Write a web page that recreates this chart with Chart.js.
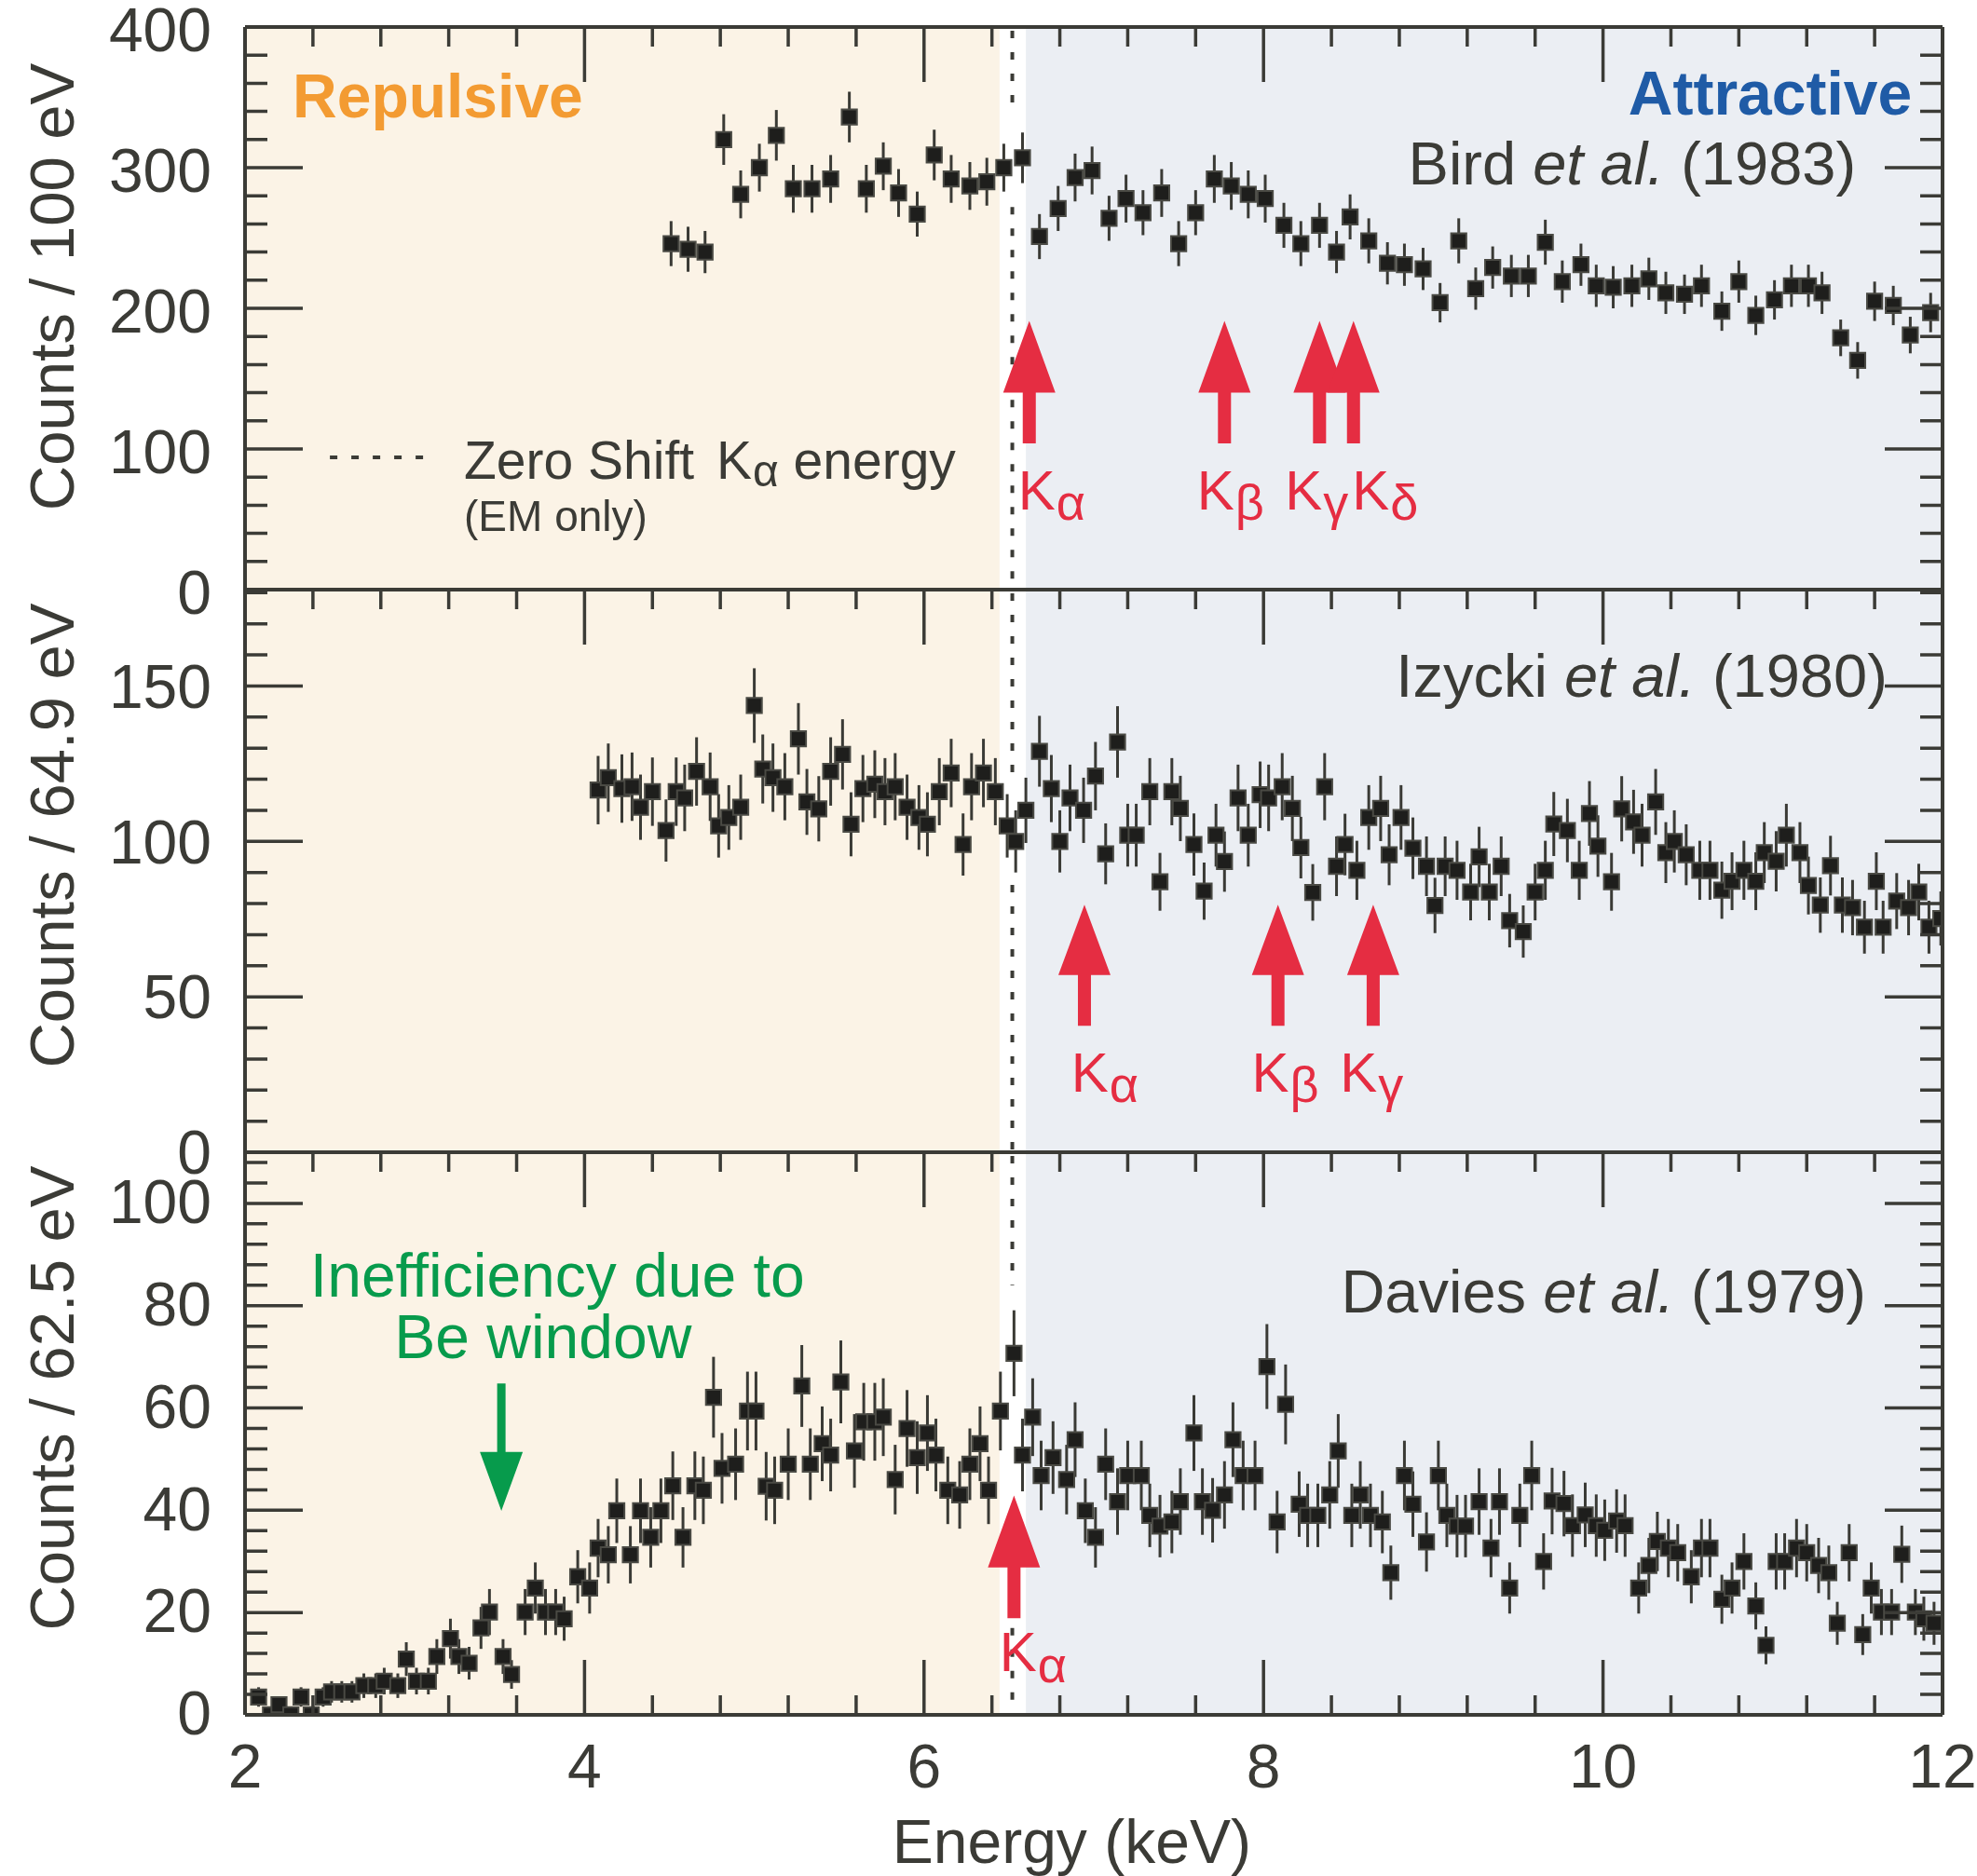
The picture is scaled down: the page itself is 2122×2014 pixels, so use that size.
<!DOCTYPE html>
<html>
<head>
<meta charset="utf-8">
<script src="https://cdn.jsdelivr.net/npm/chart.js@4.4.1/dist/chart.umd.min.js"></script>
<style>
  html, body { margin: 0; padding: 0; background: #fff; }
  #wrap { width: 2122px; height: 2014px; }
</style>
</head>
<body>
<div id="wrap"><canvas id="spectra" width="2122" height="2014"></canvas></div>
<script>
// Bird et al. (1983), counts / 100 eV
const birdEnergy = [
  4.51,4.61,4.71,4.82,4.92,5.03,5.13,5.23,5.34,5.45,
  5.56,5.66,5.76,5.85,5.96,6.06,6.16,6.27,6.37,6.47,
  6.58,6.68,6.79,6.89,6.99,7.09,7.19,7.29,7.40,7.50,
  7.60,7.71,7.81,7.91,8.01,8.12,8.22,8.33,8.43,8.51,
  8.62,8.73,8.83,8.94,9.04,9.15,9.25,9.35,9.46,9.56,
  9.66,9.76,9.87,9.96,10.06,10.17,10.27,10.37,10.48,10.58,
  10.70,10.80,10.90,11.01,11.11,11.21,11.29,11.40,11.50,11.60,
  11.71,11.81,11.93];
const birdCounts = [
  246,242,240,320,281,300,323,285,285,292,
  336,285,301,282,267,309,292,287,290,300,
  307,251,271,293,298,264,278,268,282,246,
  268,292,287,281,278,259,246,259,240,265,
  248,232,231,228,204,248,214,229,223,223,
  247,219,231,216,215,216,221,211,210,216,
  198,219,195,206,216,216,211,179,163,205,
  202,181,197];
const birdErrors = [
  16,16,15,18,17,17,18,17,17,17,
  18,17,17,17,16,18,17,17,17,17,
  18,16,16,17,17,16,17,16,17,16,
  16,17,17,17,17,16,16,16,15,16,
  16,15,15,15,14,16,15,15,15,15,
  16,15,15,15,15,15,15,15,14,15,
  14,15,14,14,15,15,15,13,13,14,
  14,13,14];

// Izycki et al. (1980), counts / 64.9 eV
const izyckiEnergy = [
  4.08,4.14,4.22,4.28,4.33,4.40,4.48,4.54,4.59,4.66,
  4.74,4.79,4.85,4.92,5.00,5.05,5.11,5.18,5.26,5.31,
  5.38,5.45,5.52,5.57,5.64,5.71,5.77,5.83,5.90,5.97,
  6.02,6.09,6.16,6.23,6.28,6.35,6.42,6.49,6.54,6.60,
  6.68,6.75,6.80,6.86,6.94,7.01,7.07,7.14,7.20,7.25,
  7.33,7.39,7.46,7.51,7.59,7.65,7.72,7.77,7.85,7.91,
  7.98,8.03,8.11,8.17,8.22,8.29,8.36,8.43,8.48,8.55,
  8.62,8.69,8.74,8.81,8.88,8.96,9.01,9.07,9.14,9.22,
  9.27,9.33,9.40,9.45,9.53,9.60,9.66,9.71,9.79,9.86,
  9.92,9.97,10.05,10.11,10.18,10.23,10.31,10.37,10.42,10.49,
  10.57,10.63,10.70,10.76,10.83,10.90,10.95,11.02,11.08,11.16,
  11.21,11.28,11.34,11.41,11.47,11.54,11.61,11.65,11.73,11.80,
  11.86,11.92,11.99];
const izyckiCounts = [
  116.5,120.5,117,117.6,111,116,103.5,116,114,122.5,
  117.6,105,107.7,111,143.7,123.3,120.5,117.6,133,112.7,
  110.5,122.5,128,105.5,117,118.4,116,117.6,111,107.7,
  105.5,116,122,99,117.6,122,116,105,100,110,
  129,117,100,114,110,121,96,132,102,102,
  116,87,116,110.6,99,84,102,93.5,114,102,
  115,114,117.6,110.6,98,83.6,117.6,92,99,90.7,
  107.7,110.6,95.7,107.7,97.8,92,79.4,92,90.7,83.7,
  95,83.7,92,74.5,71,83.7,90.7,105.6,103.5,90.7,
  109,98.5,87,110.5,106.3,102,112.7,96.4,100,95.7,
  90.7,90.7,84.3,87.2,90.7,87.2,96.4,93.6,102,96.4,
  85.8,79.5,92.2,79.5,78.7,72.4,87.2,72.4,80.8,78.7,
  83.7,72.4,75.2];
const izyckiErrors = [
  11,11,11,11,10.5,11,10,11,10.7,11,
  11,10.2,10.4,10.5,12,11.1,11,10.8,11.5,10.6,
  10.5,11,11.3,10.3,10.8,10.9,10.8,10.8,10.5,10.4,
  10.3,10.8,11,10,10.8,11,10.8,10.2,10,10.5,
  11.4,10.8,10,10.7,10.5,11,9.8,11.5,10.1,10.1,
  10.8,9.3,10.8,10.5,10,9.2,10.1,9.7,10.7,10.1,
  10.7,10.7,10.8,10.5,9.9,9.1,10.8,9.6,9.9,9.5,
  10.4,10.5,9.8,10.4,9.9,9.6,8.9,9.6,9.5,9.1,
  9.7,9.1,9.6,8.6,8.4,9.1,9.5,10.3,10.2,9.5,
  10.4,9.9,9.3,10.5,10.3,10.1,10.6,9.8,10,9.8,
  9.5,9.5,9.2,9.3,9.5,9.3,9.8,9.7,10.1,9.8,
  9.3,8.9,9.6,8.9,8.9,8.5,9.3,8.5,9,8.9,
  9.1,8.5,8.7];

// Davies et al. (1979), counts / 62.5 eV
const daviesEnergy = [
  2.08,2.15,2.20,2.27,2.33,2.39,2.46,2.51,2.57,2.63,
  2.70,2.77,2.82,2.90,2.95,3.01,3.08,3.13,3.21,3.26,
  3.32,3.39,3.44,3.52,3.57,3.65,3.71,3.77,3.83,3.88,
  3.96,4.03,4.08,4.14,4.19,4.27,4.33,4.39,4.45,4.52,
  4.58,4.65,4.70,4.76,4.81,4.89,4.96,5.01,5.07,5.12,
  5.20,5.28,5.33,5.40,5.45,5.51,5.59,5.645,5.71,5.76,
  5.83,5.90,5.96,6.02,6.07,6.14,6.21,6.27,6.33,6.38,
  6.45,6.53,6.58,6.64,6.69,6.76,6.84,6.89,6.95,7.01,
  7.07,7.14,7.20,7.28,7.33,7.39,7.46,7.51,7.59,7.64,
  7.70,7.77,7.82,7.88,7.95,8.02,8.08,8.13,8.21,8.26,
  8.32,8.39,8.44,8.52,8.57,8.63,8.70,8.75,8.83,8.88,
  8.96,9.03,9.08,9.14,9.19,9.27,9.34,9.39,9.45,9.51,
  9.58,9.65,9.70,9.77,9.82,9.895,9.96,10.01,10.08,10.13,
  10.21,10.27,10.32,10.385,10.44,10.52,10.58,10.63,10.70,10.76,
  10.83,10.90,10.96,11.02,11.07,11.14,11.20,11.27,11.33,11.38,
  11.45,11.53,11.58,11.64,11.70,11.76,11.84,11.89,11.95];
const daviesCounts = [
  3.5,0,2,0,3.5,0,3.5,4.5,4.5,4.5,
  5.7,5.7,6.6,5.7,10.9,6.6,6.6,11.4,14.9,11.4,
  10.1,17,20.1,11.4,7.9,20.1,24.8,20.1,20.1,18.8,
  27,24.8,32.6,31.3,39.9,31.3,39.9,34.7,39.9,44.8,
  34.7,44.8,43.9,62.1,48.2,49,59.4,59.4,44.7,43.9,
  49,64.3,49,53,50.8,65.1,51.6,57.3,57.3,58.2,
  46,56,50.3,55.1,50.8,43.9,43,49,53,43.9,
  59.4,70.7,50.8,58.2,46.8,50.3,46,53.8,39.9,34.7,
  49,41.7,46.8,46.8,39,36.9,37.7,41.7,55.1,41.7,
  40,43,53.8,46.8,46.8,68.1,37.7,60.7,41.2,39,
  39,43,51.6,39,43,39,37.7,27.8,46.8,41.2,
  33.8,46.8,39,36.9,36.9,41.7,32.6,41.7,24.8,39,
  46.8,30,41.8,41.3,37,39.1,37,36.1,37.9,37,
  24.8,29.2,33.9,32.6,31.7,27,32.6,32.6,22.6,24.8,
  30,21.3,13.6,30,30,32.6,31.7,29.2,27.8,17.9,
  31.7,15.7,24.8,20.1,20.1,31.4,20.1,18.8,17.9];
const daviesErrors = [
  1.9,1.2,1.4,1.2,1.9,1.2,1.9,2.1,2.1,2.1,
  2.4,2.4,2.6,2.4,3.3,2.6,2.6,3.4,3.9,3.4,
  3.2,4.1,4.5,3.4,2.8,4.5,5,4.5,4.5,4.3,
  5.2,5,5.7,5.6,6.3,5.6,6.3,5.9,6.3,6.7,
  5.9,6.7,6.6,7.9,6.9,7,7.7,7.7,6.7,6.6,
  7,8,7,7.3,7.1,8.1,7.2,7.6,7.6,7.6,
  6.8,7.5,7.1,7.4,7.1,6.6,6.6,7,7.3,6.6,
  7.7,8.4,7.1,7.6,6.8,7.1,6.8,7.3,6.3,5.9,
  7,6.5,6.8,6.8,6.2,6.1,6.1,6.5,7.4,6.5,
  6.3,6.6,7.3,6.8,6.8,8.3,6.1,7.8,6.4,6.2,
  6.2,6.6,7.2,6.2,6.6,6.2,6.1,5.3,6.8,6.4,
  5.8,6.8,6.2,6.1,6.1,6.5,5.7,6.5,5,6.2,
  6.8,5.5,6.5,6.4,6.1,6.3,6.1,6,6.2,6.1,
  5,5.4,5.8,5.7,5.6,5.2,5.7,5.7,4.8,5,
  5.5,4.6,3.7,5.5,5.5,5.7,5.6,5.4,5.3,4.2,
  5.6,4,5,4.5,4.5,5.6,4.5,4.3,4.2];

// line energies marked by arrows (keV)
const birdLines = [6.62, 7.77, 8.33, 8.53];
const birdLineNames = ['α', 'β', 'γ', 'δ'];
const izyckiLines = [6.945, 8.085, 8.646];
const izyckiLineNames = ['α', 'β', 'γ'];
const daviesLines = [6.53];
const daviesLineNames = ['α'];
const zeroShiftKa = 6.52;
const beWindowEnergy = 3.51;

const FONT = '"Liberation Sans", Arial, Helvetica, sans-serif';
const INK = '#3b3b36';
const RED = '#e52d42';
const GREEN = '#079b4c';

function series(label, xs, ys, errs, axis) {
  return {
    label: label,
    yAxisID: axis,
    data: xs.map((e, i) => ({ x: e, y: ys[i] })),
    errors: errs,
    showLine: false,
    pointStyle: 'rect',
    pointRadius: 11.5,
    pointHoverRadius: 11.5,
    backgroundColor: '#1e1e1c',
    borderColor: '#4a4a44',
    borderWidth: 2
  };
}

function yAxis(weight, max, step, title, labelShift) {
  return {
    type: 'linear', position: 'left', stack: 'panels', stackWeight: 1, weight: weight,
    min: 0, max: max,
    grid: { display: false, drawTicks: false },
    border: { display: false },
    ticks: { stepSize: step, includeBounds: false, padding: 36, labelOffset: labelShift, color: INK,
             font: { family: FONT, size: 66, lineHeight: 0.9 } },
    // drawn by the plugin below so it can sit where the original has it
    title: { display: false, text: title },
    afterFit(s) {
      s.width = 263;
      s.paddingTop = 29;
      s.paddingBottom = 0;
    }
  };
}

// panel ticks: [minor step, major step]
const panelTicks = { yTop: [20, 100], yMid: [10, 50], yBot: [4, 20] };
// value ranges where the dotted zero-shift line is left out
const dotGaps = { yTop: [272, 338], yMid: [86, 119], yBot: [17, 84] };
// how far above the panel centre each y title sits (px)
const titleLift = { yTop: 23, yMid: 38, yBot: 38 };

function drawArrow(ctx, px, yTip, yBase, yEnd, half, stem, color) {
  ctx.fillStyle = color;
  ctx.beginPath();
  ctx.moveTo(px, yTip);
  ctx.lineTo(px + half, yBase);
  ctx.lineTo(px + stem, yBase);
  ctx.lineTo(px + stem, yEnd);
  ctx.lineTo(px - stem, yEnd);
  ctx.lineTo(px - stem, yBase);
  ctx.lineTo(px - half, yBase);
  ctx.closePath();
  ctx.fill();
}

function kLabel(ctx, x, y, sub, size, subSize, color) {
  ctx.fillStyle = color;
  ctx.textAlign = 'left';
  ctx.textBaseline = 'middle';
  ctx.font = size + 'px ' + FONT;
  ctx.fillText('K', x, y);
  const w = ctx.measureText('K').width;
  ctx.font = subSize + 'px ' + FONT;
  ctx.fillText(sub, x + w + 1, y + size * 0.22);
}

const decorations = {
  id: 'decorations',
  beforeDraw(chart) {
    const { ctx, chartArea: a, scales } = chart;
    const x = scales.x;
    ctx.save();
    ctx.fillStyle = '#fbf3e6';
    const r = x.getPixelForValue(6.445);
    ctx.fillRect(a.left, a.top, r - a.left, a.bottom - a.top);
    ctx.fillStyle = '#ebeef3';
    const b = x.getPixelForValue(6.60);
    ctx.fillRect(b, a.top, a.right - b, a.bottom - a.top);
    ctx.restore();
  },
  beforeDatasetsDraw(chart) {
    const { ctx, chartArea: a, scales } = chart;
    const x = scales.x;
    ctx.save();
    // dotted zero shift K-alpha line
    ctx.strokeStyle = INK;
    ctx.lineWidth = 4;
    ctx.setLineDash([8, 15]);
    const dx = x.getPixelForValue(zeroShiftKa);
    ['yTop', 'yMid', 'yBot'].forEach(id => {
      const s = scales[id];
      const g = dotGaps[id];
      ctx.beginPath();
      ctx.moveTo(dx, s.top + 4);
      ctx.lineTo(dx, s.getPixelForValue(g[1]));
      ctx.moveTo(dx, s.getPixelForValue(g[0]));
      ctx.lineTo(dx, s.bottom);
      ctx.stroke();
    });
    // legend sample
    const ty = scales.yTop.getPixelForValue(94);
    ctx.beginPath();
    ctx.moveTo(x.getPixelForValue(2.50), ty);
    ctx.lineTo(x.getPixelForValue(3.12), ty);
    ctx.stroke();
    ctx.setLineDash([]);

    // error bars
    ctx.beginPath();
    ctx.rect(a.left, a.top, a.right - a.left, a.bottom - a.top);
    ctx.clip();
    ctx.strokeStyle = '#3a3a35';
    ctx.lineWidth = 3;
    chart.data.datasets.forEach(ds => {
      const s = scales[ds.yAxisID];
      ds.data.forEach((p, i) => {
        const e = ds.errors[i];
        const px = x.getPixelForValue(p.x);
        ctx.beginPath();
        ctx.moveTo(px, s.getPixelForValue(p.y - e));
        ctx.lineTo(px, s.getPixelForValue(p.y + e));
        ctx.stroke();
      });
    });
    ctx.restore();
  },
  afterDatasetsDraw(chart) {
    const { ctx, chartArea: a, scales } = chart;
    const x = scales.x;
    ctx.save();
    ctx.strokeStyle = INK;
    ctx.lineCap = 'butt';
    ['yTop', 'yMid', 'yBot'].forEach(id => {
      const s = scales[id];
      // frame
      ctx.lineWidth = 4;
      ctx.beginPath();
      ctx.moveTo(a.left, s.top); ctx.lineTo(a.right, s.top);
      ctx.moveTo(a.left, s.top); ctx.lineTo(a.left, s.bottom);
      ctx.moveTo(a.right, s.top); ctx.lineTo(a.right, s.bottom);
      if (id === 'yBot') { ctx.moveTo(a.left, s.bottom); ctx.lineTo(a.right, s.bottom); }
      ctx.stroke();
      // y ticks, both sides, inward
      ctx.lineWidth = 3.5;
      const [minor, major] = panelTicks[id];
      ctx.beginPath();
      for (let k = 0; k * minor <= s.max; k++) {
        const v = k * minor;
        const py = s.getPixelForValue(v);
        const len = (v % major === 0) ? 62 : 24;
        ctx.moveTo(a.left, py); ctx.lineTo(a.left + len, py);
        ctx.moveTo(a.right, py); ctx.lineTo(a.right - len, py);
      }
      // x ticks from the top edge of each panel
      for (let k = 0; k <= 25; k++) {
        const px = x.getPixelForValue(2 + 0.4 * k);
        const len = (k % 5 === 0) ? 59 : 21;
        ctx.moveTo(px, s.top); ctx.lineTo(px, s.top + len);
        if (id === 'yBot') { ctx.moveTo(px, s.bottom); ctx.lineTo(px, s.bottom - len); }
      }
      ctx.stroke();
    });
    ctx.restore();
  },
  afterDraw(chart) {
    const { ctx, scales } = chart;
    const x = scales.x, yT = scales.yTop, yM = scales.yMid, yB = scales.yBot;
    ctx.save();

    // axis titles
    ctx.fillStyle = INK;
    ctx.textAlign = 'center';
    ctx.textBaseline = 'middle';
    ctx.font = '67px ' + FONT;
    ['yTop', 'yMid', 'yBot'].forEach(id => {
      const s = scales[id];
      ctx.save();
      ctx.translate(61, (s.top + s.bottom) / 2 - titleLift[id]);
      ctx.rotate(-Math.PI / 2);
      ctx.fillText(s.options.title.text, 0, 0);
      ctx.restore();
    });
    ctx.font = '66px ' + FONT;
    ctx.fillText('Energy (keV)', x.getPixelForValue(6.87), 1982);

    // red K-line arrows
    birdLines.forEach(e => {
      drawArrow(ctx, x.getPixelForValue(e), yT.getPixelForValue(191), yT.getPixelForValue(140),
                yT.getPixelForValue(104), 28, 7, RED);
    });
    [6.554, 7.608, 8.127, 8.522].forEach((e, i) =>
      kLabel(ctx, x.getPixelForValue(e), yT.getPixelForValue(68), birdLineNames[i], 60, 54, RED));

    izyckiLines.forEach(e => {
      drawArrow(ctx, x.getPixelForValue(e), yM.getPixelForValue(79.6), yM.getPixelForValue(57),
                yM.getPixelForValue(40.7), 28, 7, RED);
    });
    [6.867, 7.93, 8.45].forEach((e, i) =>
      kLabel(ctx, x.getPixelForValue(e), yM.getPixelForValue(24.5), izyckiLineNames[i], 60, 54, RED));

    daviesLines.forEach(e => {
      drawArrow(ctx, x.getPixelForValue(e), yB.getPixelForValue(42.9), yB.getPixelForValue(28.8),
                yB.getPixelForValue(18.9), 28, 7, RED);
    });
    kLabel(ctx, x.getPixelForValue(6.444), yB.getPixelForValue(11.5), daviesLineNames[0], 60, 54, RED);

    // green Be window arrow (pointing down)
    const gx = x.getPixelForValue(beWindowEnergy);
    drawArrow(ctx, gx, yB.getPixelForValue(39.9), yB.getPixelForValue(51.4),
              yB.getPixelForValue(64.8), 23, 4.5, GREEN);

    ctx.textBaseline = 'middle';
    ctx.fillStyle = GREEN;
    ctx.textAlign = 'center';
    ctx.font = '66px ' + FONT;
    ctx.fillText('Inefficiency due to', x.getPixelForValue(3.84), yB.getPixelForValue(85));
    ctx.fillText('Be window', x.getPixelForValue(3.755), yB.getPixelForValue(73));

    // region names
    ctx.font = 'bold 66px ' + FONT;
    ctx.textAlign = 'left';
    ctx.fillStyle = '#f39b32';
    ctx.fillText('Repulsive', x.getPixelForValue(2.28), yT.getPixelForValue(348));
    ctx.textAlign = 'right';
    ctx.fillStyle = '#1f5ba6';
    ctx.fillText('Attractive', x.getPixelForValue(11.82), yT.getPixelForValue(350));

    // experiment names
    function ref(name, year, xe, py) {
      ctx.fillStyle = INK;
      ctx.textAlign = 'left';
      ctx.font = '65px ' + FONT;
      const w1 = ctx.measureText(name + ' ').width;
      const w3 = ctx.measureText(' (' + year + ')').width;
      ctx.font = 'italic 65px ' + FONT;
      const w2 = ctx.measureText('et al.').width;
      const left = x.getPixelForValue(xe) - (w1 + w2 + w3);
      ctx.font = '65px ' + FONT;
      ctx.fillText(name + ' ', left, py);
      ctx.font = 'italic 65px ' + FONT;
      ctx.fillText('et al.', left + w1, py);
      ctx.font = '65px ' + FONT;
      ctx.fillText(' (' + year + ')', left + w1 + w2, py);
    }
    ref('Bird', '1983', 11.49, yT.getPixelForValue(300));
    ref('Izycki', '1980', 11.675, yM.getPixelForValue(152));
    ref('Davies', '1979', 11.55, yB.getPixelForValue(82));

    // legend text for the dotted line
    ctx.fillStyle = INK;
    ctx.textAlign = 'left';
    ctx.font = '57px ' + FONT;
    const lx = x.getPixelForValue(3.29);
    const ly = yT.getPixelForValue(89.5);
    ctx.fillText('Zero Shift ', lx, ly);
    let cx = lx + ctx.measureText('Zero Shift ').width + 8;
    ctx.fillText('K', cx, ly);
    cx += ctx.measureText('K').width + 1;
    ctx.font = '48px ' + FONT;
    ctx.fillText('α', cx, ly + 11);
    cx += ctx.measureText('α').width;
    ctx.font = '57px ' + FONT;
    ctx.fillText(' energy', cx, ly);
    ctx.font = '46px ' + FONT;
    ctx.fillText('(EM only)', lx, yT.getPixelForValue(50));

    ctx.restore();
  }
};

const ctx = document.getElementById('spectra');
new Chart(ctx, {
  type: 'scatter',
  data: {
    datasets: [
      series('Bird et al. (1983)', birdEnergy, birdCounts, birdErrors, 'yTop'),
      series('Izycki et al. (1980)', izyckiEnergy, izyckiCounts, izyckiErrors, 'yMid'),
      series('Davies et al. (1979)', daviesEnergy, daviesCounts, daviesErrors, 'yBot')
    ]
  },
  options: {
    responsive: false,
    animation: false,
    devicePixelRatio: 1,
    layout: { padding: 0 },
    plugins: { legend: { display: false }, tooltip: { enabled: false } },
    scales: {
      x: {
        type: 'linear', position: 'bottom', min: 2, max: 12,
        grid: { display: false, drawTicks: false },
        border: { display: false },
        ticks: { stepSize: 2, padding: 20, color: INK, font: { family: FONT, size: 66, lineHeight: 1.2 } },
        title: { display: false, text: 'Energy (keV)' },
        afterFit(s) {
          s.height = 173;
          s.paddingLeft = 0;
          s.paddingRight = 37;
        }
      },
      yBot: yAxis(1, 110, 20, 'Counts / 62.5 eV', 3),
      yMid: yAxis(2, 181, 50, 'Counts / 64.9 eV', 5),
      yTop: yAxis(3, 400, 100, 'Counts / 100 eV', 8)
    }
  },
  plugins: [decorations]
});
</script>
</body>
</html>
